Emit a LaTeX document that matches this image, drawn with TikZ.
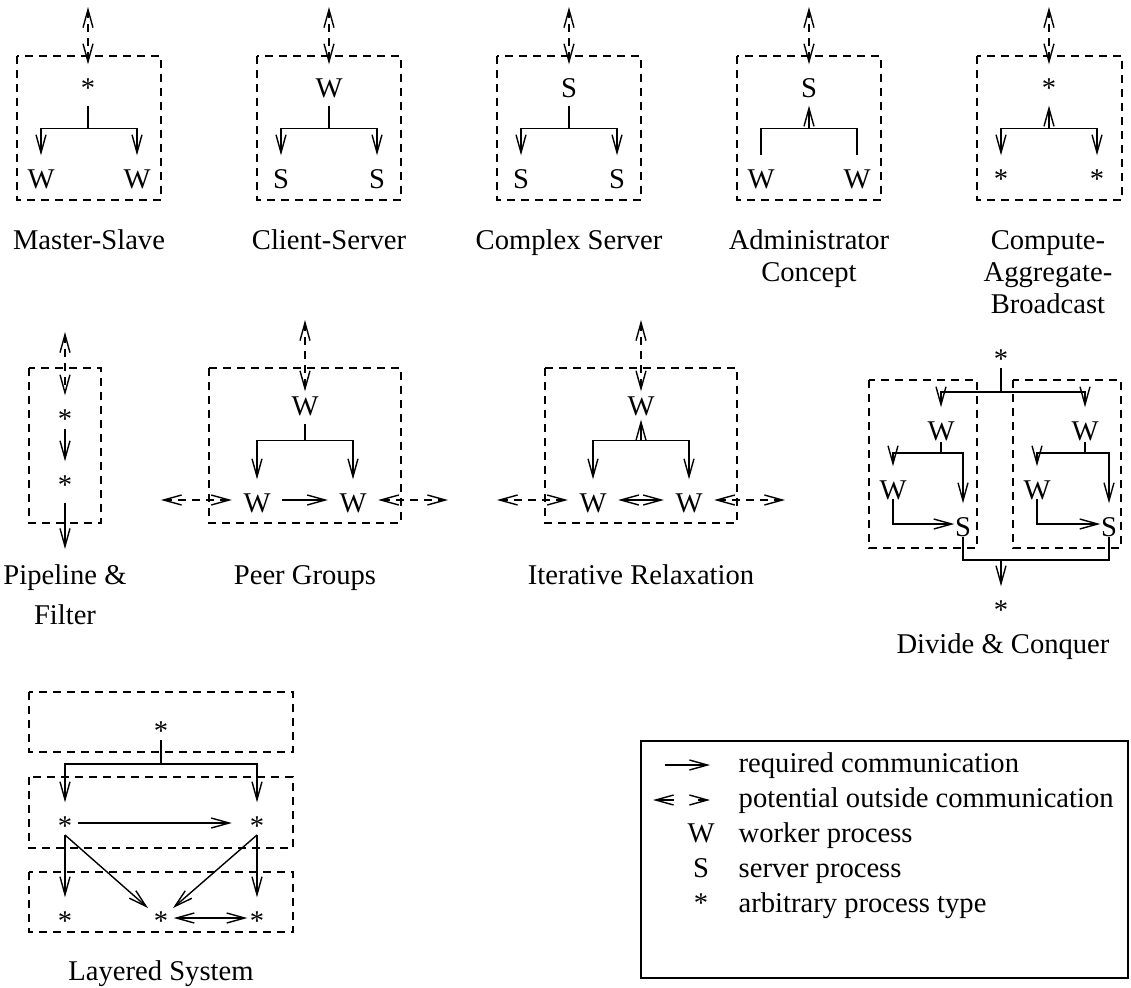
\documentclass[tikz,border=0pt]{standalone}
\usepackage{fontspec}
\setmainfont{Liberation Serif}
\usetikzlibrary{arrows.meta,calc}

\begin{document}
\begin{tikzpicture}[x=0.5pt,y=-0.5pt,
  line width=0.7pt,
  font=\fontsize{14.3}{17}\selectfont,
  >={Straight Barb[length=9pt,width=5pt]},
  proc/.style={inner sep=0pt, anchor=base, text height=16pt, text depth=4pt, minimum width=24.5pt},
  grp/.style={dash pattern=on 4pt off 3pt},
  ext/.style={<->, dash pattern=on 4pt off 3pt},
  keyext/.style={<->, dash pattern=on 9pt off 12pt},
  lbl/.style={inner sep=0pt, anchor=base},
  key/.style={inner sep=0pt, anchor=base west},
]
\useasboundingbox (0,0) rectangle (1131,987);

% ---------------- Master-Slave ----------------
\draw[grp] (17,56) rectangle (161,200);
\node[proc] (ms)  at (88,97)   {*};
\node[proc] (msl) at (41,188)  {W};
\node[proc] (msr) at (137,188) {W};
\coordinate (msx) at (88,7);
\draw[ext] (msx) -- (ms.north);
\coordinate (msj) at ($(ms.south)+(0,23)$);
\draw[->] (ms.south) -- (msj) -| (msl.north);
\draw[->] (msj) -| (msr.north);
\node[lbl] (msL) at (89,249) {Master-Slave};

% ---------------- Client-Server ----------------
\draw[grp] (257,56) rectangle (401,200);
\node[proc] (cs)  at (329,97)  {W};
\node[proc] (csl) at (281,188) {S};
\node[proc] (csr) at (377,188) {S};
\coordinate (csx) at (329,7);
\draw[ext] (csx) -- (cs.north);
\coordinate (csj) at ($(cs.south)+(0,23)$);
\draw[->] (cs.south) -- (csj) -| (csl.north);
\draw[->] (csj) -| (csr.north);
\node[lbl] (csL) at (329,249) {Client-Server};

% ---------------- Complex Server ----------------
\draw[grp] (497,56) rectangle (641,200);
\node[proc] (cx)  at (569,97)  {S};
\node[proc] (cxl) at (521,188) {S};
\node[proc] (cxr) at (617,188) {S};
\coordinate (cxx) at (569,7);
\draw[ext] (cxx) -- (cx.north);
\coordinate (cxj) at ($(cx.south)+(0,23)$);
\draw[->] (cx.south) -- (cxj) -| (cxl.north);
\draw[->] (cxj) -| (cxr.north);
\node[lbl] (cxL) at (569,249) {Complex Server};

% ---------------- Administrator Concept ----------------
\draw[grp] (737,56) rectangle (881,200);
\node[proc] (ad)  at (809,97)  {S};
\node[proc] (adl) at (761,188) {W};
\node[proc] (adr) at (857,188) {W};
\coordinate (adx) at (809,7);
\draw[ext] (adx) -- (ad.north);
\coordinate (adj) at ($(ad.south)+(0,23)$);
\draw (adl.north) |- (adj);
\draw (adr.north) |- (adj);
\draw[->] (adj) -- (ad.south);
\node[lbl] (adL1) at (809,249) {Administrator};
\node[lbl] (adL2) at (809,281) {Concept};

% ---------------- Compute-Aggregate-Broadcast ----------------
\draw[grp] (977,56) rectangle (1122,200);
\node[proc] (cb)  at (1049,97)  {*};
\node[proc] (cbl) at (1001,188) {*};
\node[proc] (cbr) at (1097,188) {*};
\coordinate (cbx) at (1049,7);
\draw[ext] (cbx) -- (cb.north);
\coordinate (cbj) at ($(cb.south)+(0,23)$);
\draw[->] (cbj) -- (cb.south);
\draw[->] (cbj) -| (cbl.north);
\draw[->] (cbj) -| (cbr.north);
\node[lbl] (cbL1) at (1048,249) {Compute-};
\node[lbl] (cbL2) at (1048,281) {Aggregate-};
\node[lbl] (cbL3) at (1048,313) {Broadcast};

% ---------------- Pipeline & Filter ----------------
\draw[grp] (29,368) rectangle (101,523);
\node[proc] (p1) at (65,428) {*};
\node[proc] (p2) at (65,494) {*};
\coordinate (pin) at (65,332);
\coordinate (pout) at (65,549);
\draw[ext] (pin) -- (p1.north);
\draw[->] ([yshift=4pt]p1.south) -- (p2.north);
\draw[->] (p2.south) -- (pout);
\node[lbl] (pL1) at (65,584) {Pipeline \&};
\node[lbl] (pL2) at (65,624) {Filter};

% ---------------- Peer Groups ----------------
\draw[grp] (209,368) rectangle (401,523);
\node[proc] (pg)  at (305,415) {W};
\node[proc] (pgl) at (257,512) {W};
\node[proc] (pgr) at (353,512) {W};
\coordinate (pgx) at (305,320);
\draw[ext] (pgx) -- ([yshift=-4.5pt]pg.north);
\coordinate (pgj) at ($(pg.south)+(0,17)$);
\draw[->] (pg.south) -- (pgj) -| (pgl.north);
\draw[->] (pgj) -| (pgr.north);
\draw[->] (pgl.east) -- (pgr.west);
\coordinate (pgw) at (161,500);
\coordinate (pge) at (448,500);
\draw[ext] (pgw) -- (pgl.west);
\draw[ext] (pgr.east) -- (pge);
\node[lbl] (pgL) at (305,584) {Peer Groups};

% ---------------- Iterative Relaxation ----------------
\draw[grp] (545,368) rectangle (737,523);
\node[proc] (ir)  at (641,415) {W};
\node[proc] (irl) at (593,512) {W};
\node[proc] (irr) at (689,512) {W};
\coordinate (irx) at (641,320);
\draw[ext] (irx) -- ([yshift=-4.5pt]ir.north);
\coordinate (irj) at ($(ir.south)+(0,17)$);
\draw[->] (irj) -- ([yshift=2pt]ir.south);
\draw[->] (irj) -| (irl.north);
\draw[->] (irj) -| (irr.north);
\draw[<->] (irl.east) -- (irr.west);
\coordinate (irw) at (497,500);
\coordinate (ire) at (785,500);
\draw[ext] (irw) -- (irl.west);
\draw[ext] (irr.east) -- (ire);
\node[lbl] (irL) at (641,584) {Iterative Relaxation};

% ---------------- Divide & Conquer ----------------
\draw[grp] (869,380) rectangle (977,548);
\draw[grp] (1013,380) rectangle (1121,548);
\node[proc] (dt) at (1001,368) {*};
\node[proc] (da) at (941,440)  {W};
\node[proc] (db) at (1085,440) {W};
\node[proc] (dc) at (893,499)  {W};
\node[proc] (dd) at (963,536)  {S};
\node[proc] (de) at (1037,499) {W};
\node[proc] (df) at (1109,536) {S};
\node[proc] (dz) at (1001,619) {*};
\coordinate (dtj) at ($(dt.base)+(0,24)$);
\draw[->] (dt.base) -- (dtj) -| (da.north);
\draw[->] (dtj) -| (db.north);
\coordinate (daj) at ($(da.base)+(0,13)$);
\draw[->] ([yshift=-1pt]da.base) -- (daj) -| (dc.north);
\draw[->] (daj) -| (dd.north);
\draw[->] (dc.base) |- ([xshift=8.25pt]dd.west);
\coordinate (dbj) at ($(db.base)+(0,13)$);
\draw[->] ([yshift=-1pt]db.base) -- (dbj) -| (de.north);
\draw[->] (dbj) -| (df.north);
\draw[->] (de.base) |- ([xshift=8.25pt]df.west);
\coordinate (ddj) at ($(dd.base)+(0,24)$);
\draw ([yshift=-0.5pt]dd.base) -- (ddj) -| ([yshift=-0.5pt]df.base);
\draw[->] (ddj -| dz.base) -- (dz.north);
\node[lbl] (dL) at (1003,653) {Divide \& Conquer};

% ---------------- Layered System ----------------
\draw[grp] (29,692) rectangle (293,752);
\draw[grp] (29,777) rectangle (293,848);
\draw[grp] (29,872) rectangle (293,932);
\node[proc] (la)  at (161,740) {*};
\node[proc] (lb1) at (65,835)  {*};
\node[proc] (lb2) at (257,835) {*};
\node[proc] (lc1) at (65,930)  {*};
\node[proc] (lc2) at (161,930) {*};
\node[proc] (lc3) at (257,930) {*};
\coordinate (laj) at ($(la.base)+(0,24)$);
\draw[->] (la.base) -- (laj) -| (lb1.north);
\draw[->] (laj) -| (lb2.north);
\draw[->] ([xshift=-6pt]lb1.east) -- (lb2.west);
\draw[->] (lb1.base) -- (lc1.north);
\draw[->] (lb2.base) -- (lc3.north);
\draw[->] (lb1.base) -- ($(lc2.base)+(-13,-22)$);
\draw[->] (lb2.base) -- ($(lc2.base)+(12,-22)$);
\draw[<->] ([xshift=-6.25pt]lc2.east) -- ([xshift=7.75pt]lc3.west);
\node[lbl] (lL) at (161,980) {Layered System};

% ---------------- Legend ----------------
\draw (641,741) rectangle (1128,978);
\coordinate (k1a) at (665,765);
\coordinate (k1b) at (710,765);
\draw[->] (k1a) -- (k1b);
\coordinate (k2a) at (653,800);
\coordinate (k2b) at (710,800);
\draw[keyext] (k2a) -- (k2b);
\node[proc] (kw) at (701,842) {W};
\node[proc] (ks) at (701,877) {S};
\node[proc] (ka) at (701,912) {*};
\node[key] (t1) at (738,772) {required communication};
\node[key] (t2) at (738,807) {potential outside communication};
\node[key] (t3) at (738,842) {worker process};
\node[key] (t4) at (738,877) {server process};
\node[key] (t5) at (738,912) {arbitrary process type};
\end{tikzpicture}
\end{document}
